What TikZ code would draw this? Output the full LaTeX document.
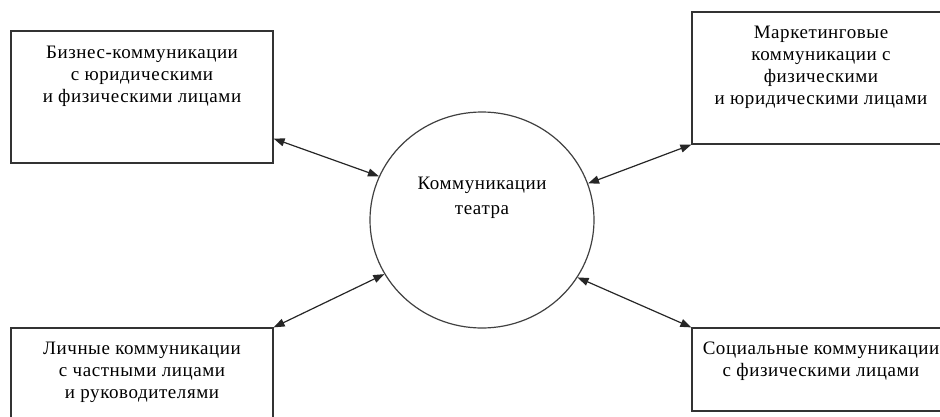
\documentclass[tikz,border=0pt]{standalone}
\usepackage{fontspec}
\setmainfont{Liberation Serif}[LetterSpace=3]
\usetikzlibrary{arrows.meta, positioning, shapes.geometric}

\begin{document}
\begin{tikzpicture}[
    x=1pt, y=-1pt,
    box/.style={draw=black!80, line width=1.2pt, rectangle, minimum width=262pt, inner sep=0pt},
    hub/.style={draw=black!75, line width=1.2pt, ellipse, minimum width=224pt, minimum height=216pt, inner sep=0pt},
    txt/.style={align=center, font=\fontsize{19}{22}\selectfont, inner sep=0pt},
    arrow/.style={{Triangle[length=11pt,width=8pt]}-{Triangle[length=11pt,width=8pt]}, line width=1.2pt, draw=black!85}
  ]
    \clip (0,0) rectangle (940,416);

    % Nodes
    \node[box, minimum height=132pt] (biz) at (142,97) {};
    \node[box, minimum width=258pt, minimum height=132pt] (mark) at (821,78) {};
    \node[box, minimum height=132pt] (lich) at (142,394) {};
    \node[box, minimum width=258pt, minimum height=83pt] (soc) at (821,369.5) {};
    \node[hub] (teatr) at (482,220) {};

    % Texts
    \node[txt, below=15pt of biz.north] (biztxt) {Бизнес-коммуникации\\с юридическими\\и физическими лицами};
    \node[txt, below=14pt of mark.north] (marktxt) {Маркетинговые\\коммуникации с\\физическими\\и юридическими лицами};
    \node[txt, below=14pt of lich.north] (lichtxt) {Личные коммуникации\\с частными лицами\\и руководителями};
    \node[txt, below=14pt of soc.north] (soctxt) {Социальные коммуникации\\с физическими лицами};
    \node[txt, anchor=center] (teatrtxt) at ([yshift=22pt]teatr.center) {Коммуникации\\[3pt]театра};

    % Connections
    \draw[arrow] ([yshift=25pt]biz.south east) -- (teatr.157);
    \draw[arrow] (mark.south west) -- (teatr.19);
    \draw[arrow] (lich.north east) -- (teatr.209);
    \draw[arrow] (soc.north west) -- (teatr.-31);
\end{tikzpicture}
\end{document}
